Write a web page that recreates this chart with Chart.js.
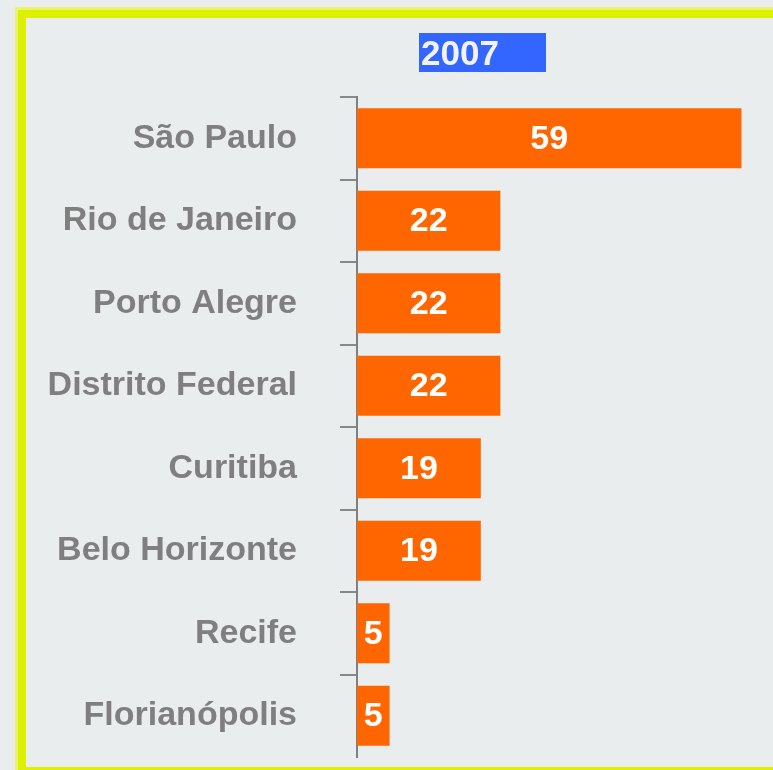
<!DOCTYPE html>
<html>
<head>
<meta charset="utf-8">
<script src="https://cdn.jsdelivr.net/npm/chart.js@4/dist/chart.umd.min.js"></script>
<style>
    html, body { margin: 0; padding: 0; background: #e9edee; overflow: hidden; }
    #wrap { position: relative; width: 773px; height: 770px; }
    .frame { position: absolute; }
    #f1 { left: 15px; top: 7px; width: 820px; height: 780px; background: #e8f46c; }
    #f2 { left: 18px; top: 10px; width: 820px; height: 780px; background: #ddf000; }
    #f3 { left: 26px; top: 18px; width: 820px; height: 749px; background: #e9edee; }
    #cityChart { position: absolute; left: 0; top: 0; }
</style>
</head>
<body>
<div id="wrap">
    <div class="frame" id="f1"></div>
    <div class="frame" id="f2"></div>
    <div class="frame" id="f3"></div>
    <canvas id="cityChart" width="773" height="770"></canvas>
</div>

<script>
const chartTitle = "2007";
const cities = ["São Paulo", "Rio de Janeiro", "Porto Alegre", "Distrito Federal", "Curitiba", "Belo Horizonte", "Recife", "Florianópolis"];
const counts = [59, 22, 22, 22, 19, 19, 5, 5];

const FONT = "'Liberation Sans', Arial, sans-serif";
const GRAY = "#7f7f7f";

// blue title box at the top
const titleBox = {
    id: "titleBox",
    afterDraw(chart) {
        const ctx = chart.ctx;
        ctx.save();
        ctx.fillStyle = "#3366ff";
        ctx.fillRect(419, 33, 127, 39);
        ctx.fillStyle = "#f2f2f2";
        ctx.font = "bold 35px " + FONT;
        ctx.textAlign = "left";
        ctx.textBaseline = "alphabetic";
        ctx.fillText(chartTitle, 421, 65);
        ctx.restore();
    }
};

// white value labels in the middle of each bar
const barValues = {
    id: "barValues",
    afterDatasetsDraw(chart) {
        const ctx = chart.ctx;
        const meta = chart.getDatasetMeta(0);
        ctx.save();
        ctx.fillStyle = "#ffffff";
        ctx.font = "bold 34px " + FONT;
        ctx.textAlign = "center";
        ctx.textBaseline = "middle";
        meta.data.forEach((bar, i) => {
            const cx = (bar.x + bar.base) / 2;
            ctx.fillText(counts[i], cx, bar.y + 1);
        });
        ctx.restore();
    }
};

new Chart(document.getElementById("cityChart").getContext("2d"), {
    type: "bar",
    data: {
        labels: cities,
        datasets: [{
            data: counts,
            backgroundColor: "#ff6600",
            borderWidth: 0,
            barPercentage: 0.73,
            categoryPercentage: 1
        }]
    },
    options: {
        indexAxis: "y",
        responsive: false,
        animation: false,
        layout: {
            padding: { top: 97, bottom: 13, left: 0, right: 25 }
        },
        plugins: {
            legend: { display: false },
            tooltip: { enabled: false },
            title: { display: false }
        },
        scales: {
            x: {
                display: false,
                min: 0,
                max: 60
            },
            y: {
                afterFit(scale) {
                    scale.width = 357;
                    scale.paddingTop = 0;
                    scale.paddingBottom = 0;
                },
                border: { display: true, color: "#808080", width: 2 },
                grid: {
                    drawOnChartArea: false,
                    tickLength: 17,
                    lineWidth: 2,
                    // no tick mark below the last bar
                    color: c => c.type === "tick" ? "#888888" : "rgba(0,0,0,0)"
                },
                ticks: {
                    color: GRAY,
                    padding: 43,
                    font: { family: FONT, size: 34, weight: "bold" }
                }
            }
        }
    },
    plugins: [titleBox, barValues]
});
</script>
</body>
</html>
